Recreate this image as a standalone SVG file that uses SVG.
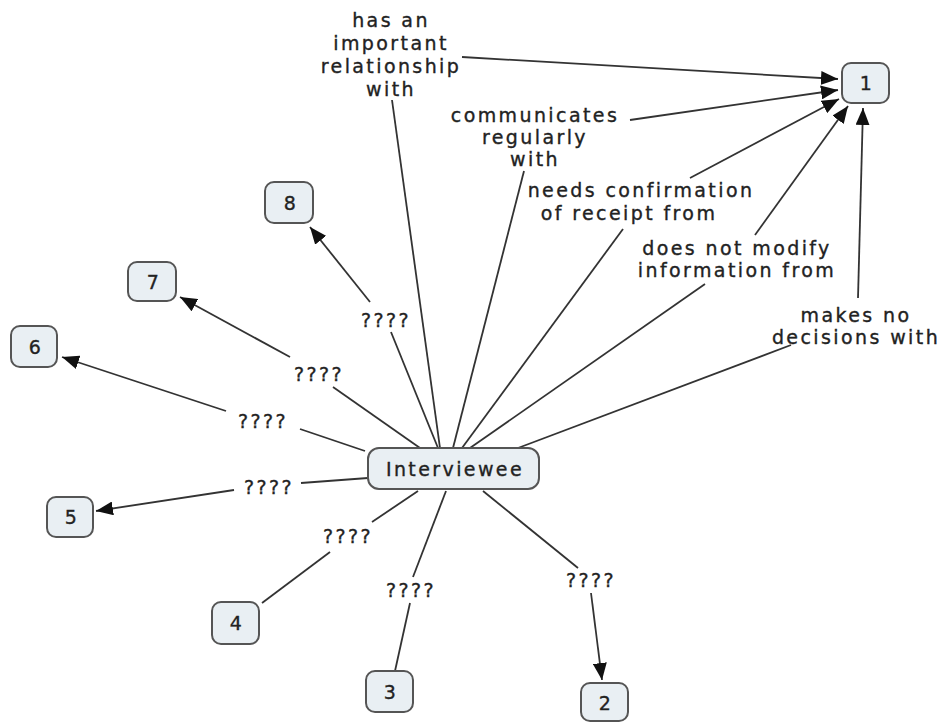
<svg xmlns="http://www.w3.org/2000/svg" width="940" height="722" viewBox="0 0 940 722">
<defs>
<marker id="arr" markerUnits="userSpaceOnUse" markerWidth="18" markerHeight="14" refX="17" refY="7" orient="auto">
<path d="M0,0 L17,7 L0,14 z" fill="#111"/>
</marker>
<style>
.node rect{fill:#e9eff3;stroke:#555;stroke-width:2}
text{font-family:"DejaVu Sans",Verdana,sans-serif;font-size:19px;fill:#222;stroke:#222;stroke-width:0.35;letter-spacing:2.4px;text-anchor:middle}
.conn line{stroke:#333;stroke-width:1.8;fill:none}
.conn line.a{marker-end:url(#arr)}
</style>
</defs>
<rect width="940" height="722" fill="#fff"/>
<g class="conn" id="connectors">
<line x1="440" y1="448" x2="392" y2="100"/>
<line class="a" x1="462" y1="57" x2="838" y2="79"/>
<line x1="453" y1="448" x2="524" y2="171"/>
<line class="a" x1="630" y1="120" x2="838" y2="90"/>
<line x1="462" y1="448" x2="623" y2="229"/>
<line class="a" x1="690" y1="178" x2="839" y2="99"/>
<line x1="470" y1="448" x2="705" y2="284"/>
<line class="a" x1="755" y1="235" x2="848" y2="106"/>
<line x1="518" y1="448" x2="791" y2="345"/>
<line class="a" x1="858" y1="298" x2="863" y2="108"/>
<line x1="438" y1="448" x2="391" y2="332"/>
<line class="a" x1="370" y1="302" x2="310" y2="227"/>
<line x1="420" y1="448" x2="333" y2="387"/>
<line class="a" x1="290" y1="357" x2="180" y2="297"/>
<line x1="365" y1="451" x2="300" y2="429"/>
<line class="a" x1="226" y1="411" x2="62" y2="357"/>
<line x1="368" y1="478" x2="301" y2="483"/>
<line class="a" x1="234" y1="490" x2="96" y2="511"/>
<line x1="418" y1="491" x2="372" y2="522"/>
<line x1="330" y1="552" x2="262" y2="603"/>
<line x1="446" y1="491" x2="413" y2="577"/>
<line x1="410" y1="603" x2="395" y2="671"/>
<line x1="483" y1="491" x2="578" y2="568"/>
<line class="a" x1="591" y1="593" x2="602" y2="680"/>
</g>
<g id="labels">
<text x="391" y="27">has an</text>
<text x="391" y="50">important</text>
<text x="391" y="73">relationship</text>
<text x="391" y="96">with</text>
<text x="535" y="122">communicates</text>
<text x="535" y="144">regularly</text>
<text x="535" y="166">with</text>
<text x="641" y="197">needs confirmation</text>
<text x="629" y="220">of receipt from</text>
<text x="737" y="255">does not modify</text>
<text x="737" y="277">information from</text>
<text x="856" y="322">makes no</text>
<text x="856" y="344">decisions with</text>
<text x="386" y="327">????</text>
<text x="319" y="381">????</text>
<text x="263" y="428">????</text>
<text x="269" y="494">????</text>
<text x="348" y="543">????</text>
<text x="411" y="597">????</text>
<text x="591" y="587">????</text>
</g>
<g class="node" id="node-interviewee"><rect x="368" y="448" width="171" height="41" rx="11"/><text x="455" y="476">Interviewee</text></g>
<g class="node" id="node-1"><rect x="842" y="63" width="47" height="40" rx="9"/><text x="867" y="90">1</text></g>
<g class="node" id="node-2"><rect x="581" y="683" width="47" height="38" rx="9"/><text x="606" y="710">2</text></g>
<g class="node" id="node-3"><rect x="366" y="671" width="47" height="41" rx="9"/><text x="391" y="699">3</text></g>
<g class="node" id="node-4"><rect x="212" y="602" width="47" height="42" rx="9"/><text x="237" y="630">4</text></g>
<g class="node" id="node-5"><rect x="47" y="497" width="46" height="40" rx="9"/><text x="72" y="524">5</text></g>
<g class="node" id="node-6"><rect x="11" y="326" width="46" height="41" rx="9"/><text x="36" y="354">6</text></g>
<g class="node" id="node-7"><rect x="128" y="262" width="48" height="39" rx="9"/><text x="154" y="289">7</text></g>
<g class="node" id="node-8"><rect x="265" y="182" width="48" height="41" rx="9"/><text x="291" y="210">8</text></g>
</svg>
